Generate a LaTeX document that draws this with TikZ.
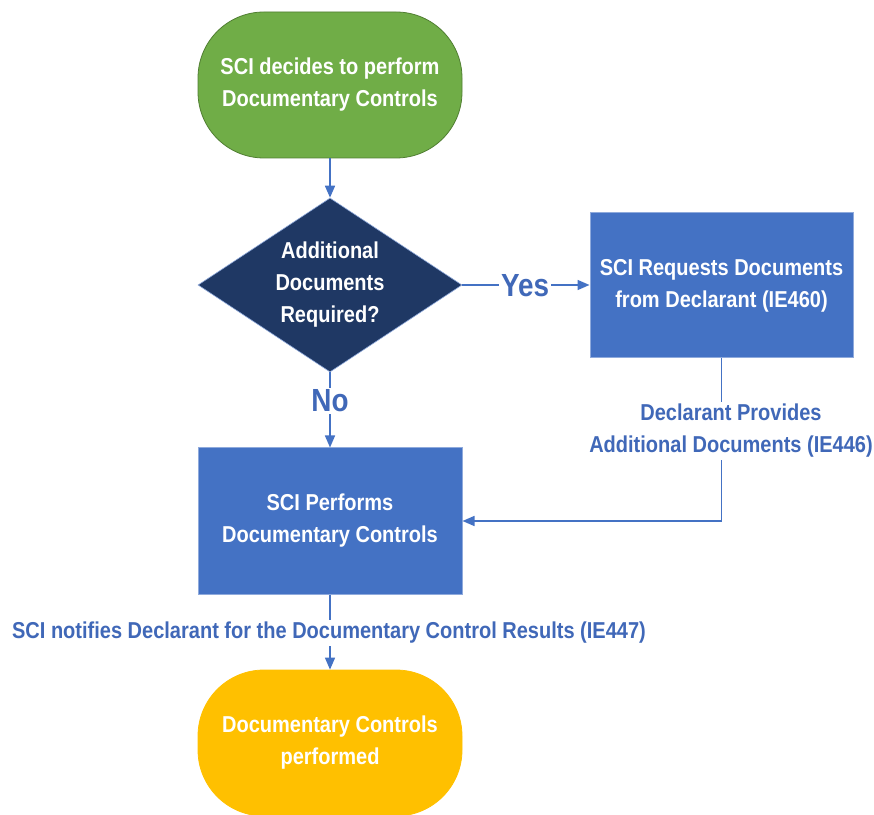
\documentclass[tikz,border=0pt]{standalone}
\usepackage{fontspec}
\setmainfont{Liberation Sans}[FakeStretch=0.87]
\usetikzlibrary{shapes.geometric,arrows.meta}
\definecolor{cgreen}{HTML}{70AD47}
\definecolor{cgreenb}{HTML}{507E32}
\definecolor{cnavy}{HTML}{1F3864}
\definecolor{cblue}{HTML}{4472C4}
\definecolor{cblueb}{HTML}{8FAADC}
\definecolor{corange}{HTML}{FFC000}
\definecolor{ctext}{HTML}{4068B8}
\begin{document}
\begin{tikzpicture}[x=1pt,y=1pt,
  every node/.style={font=\bfseries\fontsize{23}{32}\selectfont, align=center},
  terminal/.style={rounded corners=66pt, minimum width=264pt, minimum height=146pt, text=white, line width=0.8pt},
  procbox/.style={rectangle, fill=cblue, draw=cblueb, line width=1pt, minimum width=263pt, minimum height=145pt, text=white},
  decision/.style={diamond, fill=cnavy, draw=cblueb, line width=0.6pt, aspect=1.517, inner sep=0pt, minimum width=264pt, minimum height=174pt, text=white},
  flow/.style={draw=cblue, line width=1.6pt, -{Triangle[length=12pt,width=10pt]}},
  flowlabel/.style={fill=white, text=ctext, inner sep=2pt},
  biglabel/.style={fill=white, text=ctext, inner sep=2pt, font=\bfseries\fontsize{32}{36}\selectfont}
]
\useasboundingbox (0,0) rectangle (874,814);
\node[terminal, fill=cgreen, draw=cgreenb] (start) at (330,729) {SCI decides to perform\\Documentary Controls};
\node[decision] (dec) at (330,529) {Additional\\Documents\\Required?};
\node[procbox] (req) at (721.5,528.5) {SCI Requests Documents\\from Declarant (IE460)};
\node[procbox, minimum width=264pt, minimum height=146pt] (perf) at (330,293) {SCI Performs\\Documentary Controls};
\node[terminal, fill=corange, draw=corange] (done) at (330,71) {Documentary Controls\\performed};

\draw[flow] (start.south) -- (dec.north);
\draw[flow] (dec.east) -- (req.west |- dec.east);
\node[biglabel] (yes) at (525,528) {Yes};
\draw[flow] (dec.south) -- (perf.north);
\node[biglabel] (no) at (330,413) {No};
\draw[flow] (req.south) |- (perf.east);
\node[flowlabel] (prov) at (731,383) {Declarant Provides\\Additional Documents (IE446)};
\draw[flow] (perf.south) -- (done.north);
\node[flowlabel] (notif) at (329,181) {SCI notifies Declarant for the Documentary Control Results (IE447)};
\end{tikzpicture}
\end{document}
